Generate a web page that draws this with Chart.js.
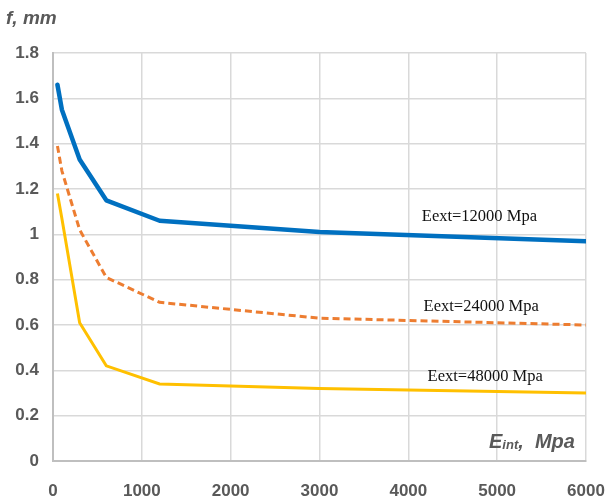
<!DOCTYPE html>
<html><head><meta charset="utf-8">
<script src="https://cdn.jsdelivr.net/npm/chart.js@4/dist/chart.umd.min.js"></script>
<style>html,body{margin:0;padding:0;background:#fff}#wrap{width:608px;height:500px;position:relative}</style>
</head><body><div id="wrap"><canvas id="c" width="608" height="500"></canvas></div>
<script>
const eintValues = [50, 100, 300, 600, 1200, 3000, 6000];
const f12000 = [1.66, 1.55, 1.33, 1.15, 1.06, 1.01, 0.97];
const f24000 = [1.39, 1.28, 1.02, 0.81, 0.70, 0.63, 0.60];
const f48000 = [1.18, 1.07, 0.61, 0.42, 0.34, 0.32, 0.30];
const seriesLabels = ['Eext=12000 Mpa', 'Eext=24000 Mpa', 'Eext=48000 Mpa'];
const xTicks = [0, 1000, 2000, 3000, 4000, 5000, 6000];
const yTicks = [0, 0.2, 0.4, 0.6, 0.8, 1, 1.2, 1.4, 1.6, 1.8];

const pts = arr => eintValues.map((x, i) => ({x, y: arr[i]}));
const labelAnchors = [{x: 4800, y: 1.08}, {x: 4820, y: 0.68}, {x: 4865, y: 0.37}];

const textPlugin = {
  id: 'texts',
  afterDraw(chart) {
    const ctx = chart.ctx, xs = chart.scales.x, ys = chart.scales.y;
    ctx.save();
    ctx.fillStyle = '#111';
    ctx.font = '16.5px "Liberation Serif", serif';
    ctx.textAlign = 'center'; ctx.textBaseline = 'middle';
    seriesLabels.forEach((t, i) => {
      ctx.fillText(t, xs.getPixelForValue(labelAnchors[i].x), ys.getPixelForValue(labelAnchors[i].y));
    });
    ctx.fillStyle = '#595959';
    ctx.textAlign = 'left'; ctx.textBaseline = 'alphabetic';
    ctx.font = 'italic bold 19px "Liberation Sans", sans-serif';
    ctx.fillText('f, mm', 6, 24);
    let x = 489, y = 448;
    ctx.font = 'italic bold 20px "Liberation Sans", sans-serif';
    ctx.fillText('E', x, y); x += ctx.measureText('E').width;
    ctx.font = 'italic bold 13px "Liberation Sans", sans-serif';
    ctx.fillText('int', x, y + 1); x += ctx.measureText('int').width;
    ctx.font = 'italic bold 20px "Liberation Sans", sans-serif';
    ctx.fillText(',  Mpa', x, y);
    ctx.restore();
  }
};

const tickFont = {family: '"Liberation Sans", sans-serif', size: 17, weight: 'bold'};

new Chart(document.getElementById('c'), {
  type: 'scatter',
  data: {
    datasets: [
      {label: seriesLabels[0], data: pts(f12000), showLine: true, borderColor: '#0070C0', borderWidth: 4.5, pointRadius: 0, tension: 0, borderJoinStyle: 'round', borderCapStyle: 'round'},
      {label: seriesLabels[1], data: pts(f24000), showLine: true, borderColor: '#ED7D31', borderWidth: 3, borderDash: [7, 4], pointRadius: 0, tension: 0},
      {label: seriesLabels[2], data: pts(f48000), showLine: true, borderColor: '#FFC000', borderWidth: 3, pointRadius: 0, tension: 0}
    ]
  },
  options: {
    responsive: false, animation: false,
    layout: {padding: {top: 53, right: 22, left: 0, bottom: 0}},
    plugins: {legend: {display: false}, tooltip: {enabled: false}},
    scales: {
      x: {
        type: 'linear', min: 0, max: 6000,
        afterBuildTicks: s => { s.ticks = xTicks.map(v => ({value: v})); },
        afterFit: s => { s.height = 39; s.paddingRight = 0; s.paddingLeft = 0; },
        grid: {color: '#d9d9d9', lineWidth: 1.5, drawTicks: false},
        border: {color: '#bfbfbf', width: 2},
        ticks: {padding: 20, maxRotation: 0, color: '#595959', font: tickFont, callback: v => String(v)}
      },
      y: {
        min: 0, max: 1.8,
        afterBuildTicks: s => { s.ticks = yTicks.map(v => ({value: v})); },
        afterFit: s => { s.width = 53; s.paddingTop = 0; s.paddingBottom = 0; },
        grid: {color: '#d9d9d9', lineWidth: 1.5, drawTicks: false},
        border: {color: '#bfbfbf', width: 2},
        ticks: {padding: 14, color: '#595959', font: tickFont, callback: v => String(+v.toFixed(1))}
      }
    }
  },
  plugins: [textPlugin]
});
</script></body></html>
